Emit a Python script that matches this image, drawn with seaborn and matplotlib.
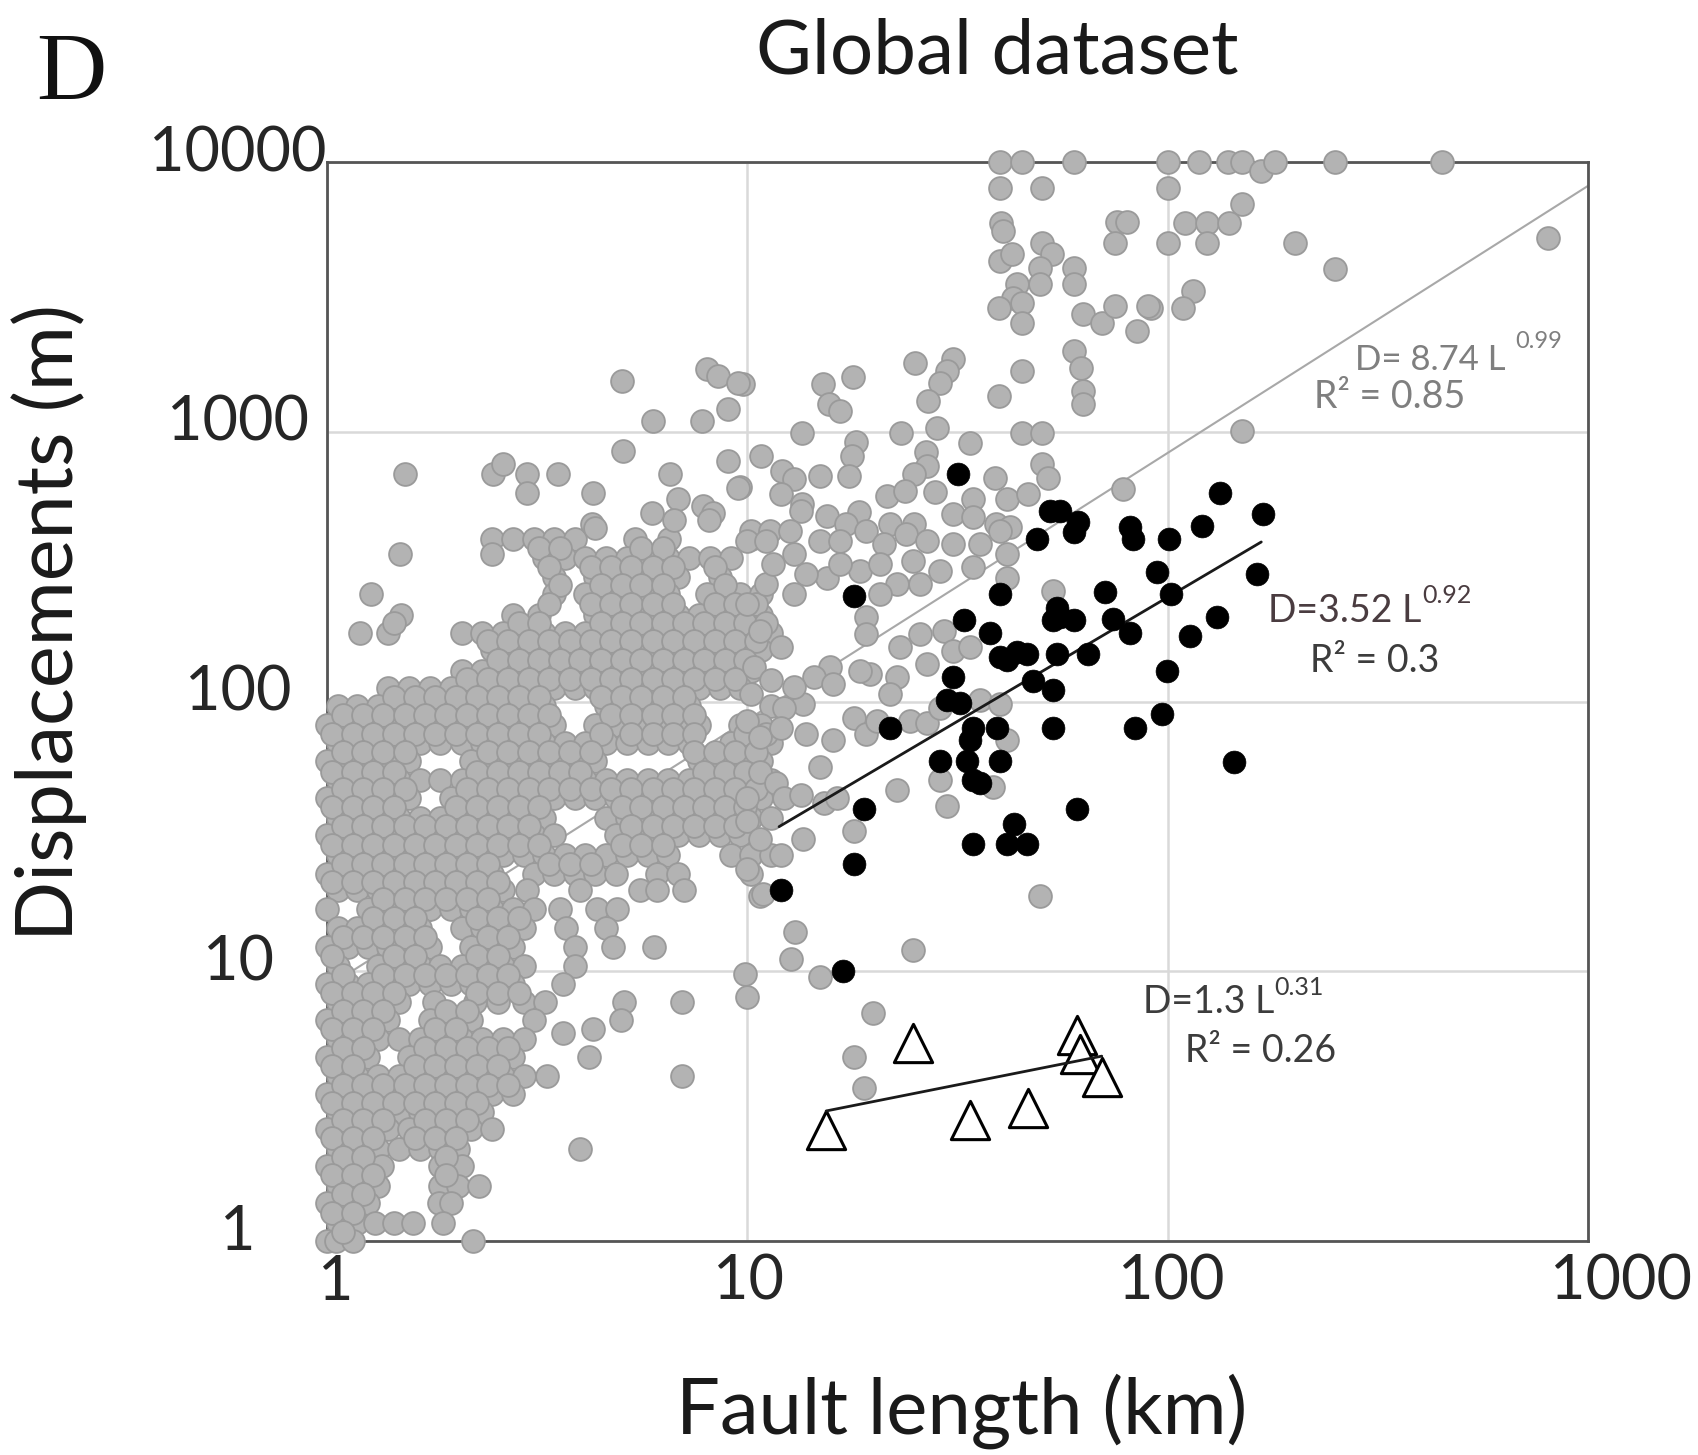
import numpy as np
import pandas as pd
import matplotlib
matplotlib.use("Agg")
import matplotlib.pyplot as plt
from matplotlib.ticker import NullLocator
from matplotlib.transforms import ScaledTranslation
import seaborn as sns

sns.set_style("white")
plt.rcParams['font.family'] = ['Lato', 'DejaVu Sans']

# ---------------- data ----------------
x_ticks = [1, 10, 100, 1000]
x_tick_labels = ['1', '10', '100', '1000']
y_ticks = [1, 10, 100, 1000, 10000]
y_tick_labels = ['1', '10', '100', '1000', '10000']

# dense grey cloud, row by row: displacement of the row and fault lengths on it
cloud_D = [400, 340, 290, 250, 210, 180, 155, 130, 112, 96, 82, 70, 60, 51, 44, 37, 32, 27,
           23, 20, 17, 14.5, 12.3, 10.5, 9.0, 7.7, 6.6, 5.6, 4.8, 4.1, 3.5, 3.0, 2.6, 2.2,
           1.9, 1.6, 1.38, 1.17, 1.0]
cloud_L = [
    [2.47, 2.77, 3.1, 3.47, 3.89, 5.4, 6.5, 10.2],
    [3.29, 3.68, 4.12, 4.62, 5.17, 5.79, 6.49, 7.27, 8.14, 9.12],
    [3.47, 4.35, 4.87, 5.46, 6.1, 6.85, 8.6],
    [1.27, 3.47, 4.12, 4.62, 5.17, 5.79, 6.49, 8.0, 9.6, 10.8],
    [1.5, 2.77, 3.2, 4.35, 4.87, 5.46, 6.1, 6.85, 7.67, 8.6, 9.6, 10.8],
    [1.2, 1.4, 2.09, 2.34, 2.62, 2.94, 3.29, 3.68, 4.12, 4.62, 5.17, 5.79, 6.49, 7.27, 8.14, 9.12, 10.2, 11.4],
    [2.47, 2.77, 3.1, 3.47, 3.89, 4.35, 4.87, 5.46, 6.1, 6.85, 7.67, 8.6, 9.6, 10.8],
    [2.09, 2.34, 2.62, 2.94, 3.29, 3.68, 4.12, 4.62, 5.17, 5.79, 6.49, 7.27, 8.14, 9.12, 10.2],
    [1.4, 1.57, 1.76, 1.97, 2.2, 2.47, 2.77, 3.1, 3.47, 3.89, 4.35, 4.87, 5.46, 6.1, 6.85, 7.67, 8.6, 9.6],
    [1.06, 1.18, 1.32, 1.48, 1.66, 1.86, 2.09, 2.34, 2.62, 2.94, 3.29, 4.62, 5.17, 5.79, 6.49, 7.27, 11.4],
    [1.0, 1.12, 1.25, 1.4, 1.57, 1.76, 1.97, 2.2, 2.47, 2.77, 3.1, 3.47, 4.35, 4.87, 5.46, 6.1, 6.85, 7.67, 9.6, 10.8],
    [1.06, 1.18, 1.32, 1.48, 1.66, 1.86, 2.09, 2.34, 2.62, 2.94, 3.29, 3.68, 4.12, 4.62, 5.17, 5.79, 6.49, 7.27, 9.12, 10.2, 11.4],
    [1.0, 1.12, 1.25, 1.4, 1.57, 2.2, 2.47, 2.77, 3.1, 3.47, 3.89, 4.35, 7.67, 8.6, 9.6, 10.8],
    [1.06, 1.18, 1.32, 1.48, 1.66, 1.86, 2.09, 2.34, 2.62, 2.94, 3.29, 3.68, 4.12, 4.62, 5.17, 5.79, 6.49, 7.27, 8.14, 9.12, 10.2, 11.4],
    [1.0, 1.12, 1.25, 1.4, 1.57, 1.97, 2.2, 2.47, 2.77, 3.1, 3.47, 3.89, 4.35, 4.87, 5.46, 6.1, 6.85, 7.67, 8.6, 9.6, 10.8],
    [1.06, 1.18, 1.32, 1.48, 1.66, 1.86, 2.09, 2.34, 2.62, 2.94, 3.29, 4.62, 5.17, 5.79, 6.49, 7.27, 8.14, 9.12, 10.2, 11.4],
    [1.0, 1.12, 1.25, 1.4, 1.57, 1.76, 1.97, 2.2, 2.47, 2.77, 3.1, 3.47, 4.87, 5.46, 6.1, 6.85, 7.67, 8.6, 9.6],
    [1.06, 1.18, 1.32, 1.48, 1.66, 1.86, 2.09, 2.34, 2.62, 2.94, 3.29, 3.68, 4.12, 4.62, 5.17, 5.79, 6.49, 9.12, 10.2, 11.4],
    [1.0, 1.12, 1.25, 1.4, 1.57, 1.76, 1.97, 2.2, 2.47, 3.1, 3.47, 3.89, 4.35, 4.87, 6.1, 6.85, 10.2],
    [1.06, 1.18, 1.32, 1.48, 1.66, 1.86, 2.09, 2.34, 2.62, 2.99, 4.0, 5.56, 6.1, 7.05],
    [1.0, 1.25, 1.4, 1.57, 1.76, 1.97, 2.2, 2.47, 2.77, 3.1, 3.58, 4.4, 4.9],
    [1.06, 1.18, 1.32, 1.48, 1.66, 2.09, 2.34, 2.62, 2.94, 3.7, 4.6],
    [1.0, 1.12, 1.25, 1.4, 1.57, 1.76, 2.2, 2.47, 2.77, 3.9, 4.8, 6.0],
    [1.06, 1.32, 1.48, 1.66, 1.86, 2.09, 2.34, 2.62, 2.94, 3.9],
    [1.0, 1.12, 1.25, 1.4, 1.57, 1.76, 1.97, 2.2, 2.47, 2.77, 3.65],
    [1.06, 1.18, 1.32, 1.48, 1.8, 2.25, 2.55, 2.94, 3.3, 5.1, 7.0],
    [1.0, 1.12, 1.25, 1.4, 1.76, 1.97, 2.2, 3.1, 5.0],
    [1.06, 1.18, 1.32, 1.48, 1.66, 1.86, 2.09, 2.34, 2.62, 2.94],
    [1.0, 1.12, 1.25, 1.57, 1.76, 1.97, 2.2, 2.47, 2.77, 4.2],
    [1.06, 1.18, 1.32, 1.48, 1.66, 1.86, 2.09, 2.34, 2.62, 2.94, 3.33, 7.0],
    [1.0, 1.12, 1.25, 1.4, 1.57, 1.76, 1.97, 2.2, 2.47, 2.77],
    [1.06, 1.18, 1.32, 1.48, 1.66, 1.86, 2.09, 2.34],
    [1.0, 1.12, 1.25, 1.4, 1.57, 1.76, 1.97, 2.2, 2.47],
    [1.06, 1.18, 1.32, 1.48, 1.66, 1.86, 2.05, 4.0],
    [1.0, 1.12, 1.25, 1.35, 1.86, 2.09],
    [1.06, 1.18, 1.32, 1.86, 2.05, 2.3],
    [1.0, 1.12, 1.25, 1.85, 1.97],
    [1.06, 1.18, 1.3, 1.44, 1.6, 1.89],
    [1.0, 1.05, 1.15, 2.23],
]

# second, in-between layer of the same cloud
cloud2_D = [370, 315, 270, 230, 195, 167, 142, 121, 104, 89, 76, 65, 55, 47.5, 40.5, 34.5,
            29.5, 25, 21.5, 18.5, 15.7, 13.4, 11.4, 9.7, 8.3, 7.1, 6.1, 5.2, 4.45, 3.8, 3.25,
            2.8, 2.4, 2.05, 1.75, 1.49, 1.27, 1.08]
cloud2_L = [
    [3.2, 3.58, 5.6, 6.3],
    [3.38, 4.24, 4.75, 5.3, 5.95, 6.67, 8.37],
    [3.58, 4.48, 5.02, 5.6, 6.3, 8.85],
    [3.38, 4.24, 4.75, 5.3, 5.95, 6.67, 8.37, 9.37, 10.5],
    [1.44, 2.86, 3.2, 4.48, 5.02, 5.6, 6.3, 7.05, 7.9, 8.85, 9.9, 11.1],
    [2.41, 2.7, 3.02, 3.38, 3.79, 4.24, 4.75, 5.3, 5.95, 6.67, 7.47, 8.37, 9.37, 10.5],
    [2.55, 2.86, 3.2, 3.58, 4.0, 4.48, 5.02, 5.6, 6.3, 7.05, 7.9, 8.85, 9.9],
    [2.15, 2.41, 2.7, 3.02, 3.38, 3.79, 4.24, 4.75, 5.3, 5.95, 6.67, 7.47, 8.37, 9.37],
    [1.44, 1.62, 1.81, 2.03, 2.28, 2.55, 2.86, 3.2, 4.48, 5.02, 5.6, 6.3, 7.05],
    [1.09, 1.22, 1.36, 1.53, 1.71, 1.92, 2.15, 2.41, 2.7, 3.02, 3.38, 4.75, 5.3, 5.95, 6.67, 7.47],
    [1.03, 1.15, 1.29, 1.44, 1.62, 1.81, 2.03, 2.28, 2.55, 2.86, 3.2, 4.48, 5.3, 5.95, 6.67, 7.47, 9.9, 11.1],
    [1.09, 1.22, 1.36, 1.53, 2.41, 2.7, 3.02, 3.38, 3.79, 4.24, 7.47, 8.37, 9.37, 10.5],
    [1.03, 1.15, 1.29, 1.44, 2.28, 2.55, 2.86, 3.2, 3.58, 4.0, 7.9, 8.85, 9.9],
    [1.09, 1.22, 1.36, 1.53, 2.15, 2.41, 2.7, 3.02, 3.38, 3.79, 4.24, 4.75, 5.3, 5.95, 6.67, 7.47, 8.37, 9.37, 10.5],
    [1.03, 1.15, 1.29, 1.44, 2.03, 2.28, 2.55, 2.86, 3.2, 5.02, 5.6, 6.3, 7.05, 7.9, 8.85, 9.9],
    [1.09, 1.22, 1.36, 1.53, 1.71, 1.92, 2.15, 2.41, 2.7, 3.02, 5.3, 5.95, 6.67, 7.47, 8.37, 9.37],
    [1.03, 1.15, 1.29, 1.44, 1.62, 1.81, 2.03, 2.28, 2.55, 2.86, 3.2, 5.02, 5.6, 6.3],
    [1.09, 1.22, 1.36, 1.53, 1.71, 1.92, 2.15, 2.41, 3.38, 3.79, 4.24],
    [1.03, 1.15, 1.29, 1.44, 1.62, 1.81, 2.03, 2.28, 2.55],
    [1.36, 1.53, 1.71, 1.92, 2.15, 2.41],
    [1.29, 1.44, 1.62, 2.28, 2.55, 2.86],
    [1.09, 1.22, 1.36, 1.53, 1.71, 2.41, 2.7],
    [1.03, 1.44, 1.62, 2.28, 2.55],
    [1.09, 1.36, 1.53, 1.71, 1.92, 2.15, 2.41, 2.7],
    [1.03, 1.15, 1.29, 1.44, 2.28, 2.55, 2.86],
    [1.09, 1.22, 1.36, 1.92, 2.15],
    [1.03, 1.15, 1.29, 1.81, 2.03],
    [1.09, 1.22, 1.71, 1.92, 2.15, 2.41, 2.7],
    [1.03, 1.15, 1.62, 1.81, 2.03, 2.28, 2.55],
    [1.09, 1.22, 1.36, 1.53, 1.71, 1.92, 2.15, 2.41, 2.7],
    [1.03, 1.15, 1.29, 1.44, 1.62, 1.81, 2.03, 2.28],
    [1.09, 1.22, 1.36, 1.71, 1.92, 2.15],
    [1.03, 1.15, 1.29, 1.62, 1.81, 2.03],
    [1.09, 1.22, 1.92],
    [1.03, 1.15, 1.29, 1.92],
    [1.09, 1.22],
    [1.03, 1.15],
    [1.09],
]

# scattered grey points (fault length km, displacement m)
gray_top = [(39.9, 10000), (45, 10000), (60, 10000), (100, 10000), (118.5, 10000), (139, 10000),
            (150, 10000), (167, 9260), (180, 10000), (250, 10000), (450, 10000),
            (39.9, 8010), (50.3, 8010), (100, 8010), (150, 6980),
            (40.2, 5940), (40.5, 5540), (75.8, 6000), (80, 6000), (75, 5010), (100, 5010),
            (110, 5940), (124, 5940), (140, 5940), (124, 5010), (201, 5010), (250, 4010),
            (804, 5230), (115, 3330), (108.6, 2880), (91.5, 2880),
            (50.3, 5010), (53, 4560), (39.9, 4300), (42.6, 4560), (60, 4050), (60, 3530),
            (49.6, 4050), (49.6, 3530), (43.8, 3530), (42.8, 3130), (39.6, 2880), (45, 3000),
            (45, 2530), (62.9, 2740), (69.8, 2530), (75, 2930), (84.5, 2370), (89.9, 2930),
            (60, 1995), (62.1, 1725), (62.8, 1418), (63, 1270), (45, 1680), (39.6, 1360),
            (25.1, 1800), (30.9, 1860), (29.9, 1680), (28.7, 1520), (26.9, 1300), (17.8, 1590),
            (15.1, 1500), (15.6, 1270), (16.6, 1195), (9.77, 1500), (13.5, 991), (23.2, 991),
            (28.3, 1035), (33.9, 910), (45, 991), (50.3, 991), (50.3, 761), (52, 676),
            (38.8, 676), (78.4, 615), (150, 1010)]

gray_mid = [(10.8, 815), (12.1, 717), (12.9, 668), (14.9, 687), (18.1, 914), (17.7, 815),
            (17.5, 687), (26.6, 840), (26.7, 748), (24.9, 697), (9.6, 622), (12.0, 588),
            (13.5, 540), (15.5, 489), (18.4, 502), (21.5, 580), (23.7, 605), (27.9, 597),
            (34.4, 564), (41.4, 564), (46.6, 588), (10.2, 430), (11.3, 430), (13.4, 510),
            (17.2, 455), (21.9, 455), (24.9, 455), (30.9, 495), (34.4, 482), (39.1, 455),
            (42.2, 443), (10.0, 394), (11.1, 394), (12.9, 352), (14.9, 394), (16.6, 394),
            (19.2, 430), (21.1, 384), (23.9, 418), (26.7, 394), (30.9, 384), (35.8, 384),
            (39.9, 430), (41.4, 352), (41.4, 288), (53.4, 257), (28.7, 305), (25.8, 272),
            (22.7, 272), (20.7, 250), (18.5, 305), (15.5, 288), (13.8, 297), (12.9, 250),
            (11.1, 272), (10.0, 230), (19.2, 205), (19.2, 178), (23.1, 159), (25.8, 178),
            (29.3, 183), (30.9, 154), (33.9, 159), (26.7, 138), (22.7, 123), (21.9, 107),
            (19.6, 126), (18.5, 130), (15.7, 134), (14.4, 123), (16.0, 116), (13.6, 98),
            (12.2, 95), (10.0, 85), (10.7, 74), (12.0, 80), (13.8, 76), (16.0, 72),
            (17.9, 87), (19.2, 76), (20.3, 85), (24.4, 85), (26.7, 83), (28.7, 95),
            (35.8, 101), (39.9, 98), (14.9, 57), (10.7, 55), (11.7, 50), (12.2, 44),
            (13.4, 45), (15.2, 42), (16.3, 44), (10.0, 44), (10.0, 36), (10.7, 31),
            (12.0, 27), (13.6, 31), (17.9, 33), (22.7, 47), (28.7, 51), (29.8, 41),
            (38.5, 48), (41.4, 72), (49.7, 19), (10.7, 19), (10.0, 24),
            (11.5, 324), (16.6, 324), (20.7, 324), (24.8, 333), (34.5, 314), (12.6, 430),
            (10.7, 183), (12.0, 159), (10.4, 134), (11.4, 120), (12.9, 113), (10.2, 107),
            (10.9, 19.4), (13.0, 14.0), (12.7, 11.1), (14.9, 9.5), (9.9, 9.8), (10.0, 8.0),
            (19.9, 7.0), (17.9, 4.8), (18.9, 3.7), (24.8, 12.0)]

gray_left = [(5.03, 1545), (8.0, 1710), (8.5, 1610), (9.5, 1520), (9.0, 1218), (5.97, 1097),
             (7.8, 1097), (5.06, 850), (9.0, 780), (1.53, 700), (2.48, 700), (2.62, 760),
             (2.99, 700), (2.99, 594), (3.54, 700), (4.29, 594), (6.55, 700), (6.85, 565),
             (6.7, 470), (7.85, 530), (8.3, 500), (5.94, 500), (9.5, 620), (4.27, 456),
             (4.35, 440), (8.1, 470), (2.47, 353), (1.49, 353), (4.3, 6.1), (3.65, 5.9)]

# black points
black_pts = [(31.7, 697), (17.9, 247), (39.9, 250), (32.7, 200), (37.8, 180), (39.9, 146),
             (43.7, 152), (46.2, 150), (41.4, 142), (30.9, 123), (29.8, 101), (32.1, 99),
             (21.9, 80), (34.5, 80), (39.2, 80), (33.9, 72), (28.7, 60), (33.3, 60),
             (39.9, 60), (34.5, 51), (35.8, 50), (18.9, 40), (17.9, 25), (12.0, 20),
             (34.5, 29.6), (43.0, 35.2), (41.4, 29.6), (46.2, 29.6), (53.4, 80), (60.8, 40),
             (47.9, 119), (53.4, 110), (54.5, 150), (64.7, 150), (55.5, 205), (53.4, 200),
             (54.5, 223), (59.7, 200), (71.0, 254), (74.3, 202), (81.3, 180), (94.2, 301),
             (102, 250), (99.5, 130), (96.8, 90), (83.6, 80), (101, 400), (82.8, 400),
             (81.3, 442), (59.7, 424), (48.8, 400), (113, 175), (52.5, 510), (55.5, 510),
             (61.2, 461), (133, 594), (169, 497), (121, 449), (163, 298), (131, 205),
             (144, 59.5), (16.9, 10)]

# open triangles
tri_L = [15.4, 24.8, 33.9, 46.6, 60.8, 61.8, 69.7]
tri_D = [2.58, 5.4, 2.8, 3.1, 5.8, 4.95, 4.06]

# power-law fits shown on the chart: (coefficient, exponent, Lmin, Lmax)
fit_gray = (8.74, 0.99, 1.0, 1000.0)
fit_black = (3.52, 0.92, 11.9, 167.0)
fit_tri = (1.3, 0.31, 15.4, 69.7)

# ---------------- build tables ----------------
rows_L, rows_D = [], []
for Ds, Ls in ((cloud_D, cloud_L), (cloud2_D, cloud2_L)):
    for d, ls in zip(Ds, Ls):
        for l in ls:
            rows_L.append(l)
            rows_D.append(d)
gray_all = list(zip(rows_L, rows_D)) + gray_top + gray_mid + gray_left
gray_df = pd.DataFrame(gray_all, columns=['L', 'D'])
black_df = pd.DataFrame(black_pts, columns=['L', 'D'])
tri_df = pd.DataFrame({'L': tri_L, 'D': tri_D})


def fit_df(f):
    a, b, l0, l1 = f
    L = np.logspace(np.log10(l0), np.log10(l1), 60)
    return pd.DataFrame({'L': L, 'D': a * L ** b})


# ---------------- figure ----------------
W, H = 1699, 1455
fig = plt.figure(figsize=(W / 100, H / 100), dpi=100)
ax = fig.add_axes([327 / W, 1 - 1241 / H, (1588 - 327) / W, (1241 - 162) / H])
ax.set_xscale('log')
ax.set_yscale('log')

sns.lineplot(data=fit_df(fit_gray), x='L', y='D', ax=ax, color='#a8a8a8', lw=1.5,
             sort=False, estimator=None, zorder=1.5)
sns.scatterplot(data=gray_df, x='L', y='D', ax=ax, s=270, color='#b3b3b3',
                edgecolor='#9a9a9a', linewidth=1.3, zorder=2, clip_on=False)
sns.lineplot(data=fit_df(fit_black), x='L', y='D', ax=ax, color='#1a1a1a', lw=2.0,
             sort=False, estimator=None, zorder=3)
sns.scatterplot(data=black_df, x='L', y='D', ax=ax, s=270, color='black',
                edgecolor='black', linewidth=0.5, zorder=4, clip_on=False)
sns.scatterplot(data=tri_df, x='L', y='D', ax=ax, s=760, marker='^', color='white',
                edgecolor='black', linewidth=2.2, zorder=5, clip_on=False)
sns.lineplot(data=fit_df(fit_tri), x='L', y='D', ax=ax, color='#1a1a1a', lw=2.0,
             sort=False, estimator=None, zorder=6)

ax.set_xlim(1, 1000)
ax.set_ylim(1, 10000)
ax.set_xticks(x_ticks)
ax.set_xticklabels(x_tick_labels)
ax.set_yticks(y_ticks)
ax.set_yticklabels(y_tick_labels)
ax.xaxis.set_minor_locator(NullLocator())
ax.yaxis.set_minor_locator(NullLocator())
ax.tick_params(axis='both', length=0, labelsize=44, labelcolor='#262626')
ax.tick_params(axis='x', pad=9)
ax.tick_params(axis='y', pad=64)
ax.set_xlabel('')
ax.set_ylabel('')
ax.grid(True, which='major', color='#d9d9d9', lw=1.8)
ax.set_axisbelow(True)
for sp in ax.spines.values():
    sp.set_color('#555555')
    sp.set_linewidth(2.0)
    sp.set_zorder(1.8)

# label placement as in the picture: y labels centred in a column, raised a little
for lab in ax.get_yticklabels():
    lab.set_horizontalalignment('center')
    lab.set_transform(lab.get_transform() + ScaledTranslation(0, 10 / 72, fig.dpi_scale_trans))
x_shift_pt = [6.5, 0.7, 2.9, 23.8]
for lab, dx in zip(ax.get_xticklabels(), x_shift_pt):
    lab.set_transform(lab.get_transform() + ScaledTranslation(dx / 72, 0, fig.dpi_scale_trans))


def ft(x, y, s, **kw):
    fig.text(x / W, 1 - y / H, s, **kw)


ft(36, 100, 'D', fontsize=70, family=['Liberation Serif'], color='#111111',
   ha='left', va='baseline')
ft(997, 74, 'Global dataset', fontsize=55, color='#1a1a1a', ha='center', va='baseline')
ft(49, 623, 'Displacements (m)', fontsize=57, color='#1a1a1a', rotation=90,
   ha='center', va='center')
ft(962, 1411, 'Fault length (km)', fontsize=56, color='#1a1a1a', ha='center', va='center')

gcol = '#7f7f7f'
ft(1355, 370, 'D= 8.74 L', fontsize=25, color=gcol, ha='left', va='baseline')
ft(1515, 348, '0.99', fontsize=17, color=gcol, ha='left', va='baseline')
ft(1314, 408, 'R² = 0.85', fontsize=27, color=gcol, ha='left', va='baseline')

bcol = '#4a3c40'
ft(1268, 622, 'D=3.52 L', fontsize=27, color=bcol, ha='left', va='baseline')
ft(1422, 603, '0.92', fontsize=18, color=bcol, ha='left', va='baseline')
ft(1310, 672, 'R² = 0.3', fontsize=27, color='#3c3c3c', ha='left', va='baseline')

tcol = '#3c3c3c'
ft(1143, 1013, 'D=1.3 L', fontsize=27, color=tcol, ha='left', va='baseline')
ft(1274, 995, '0.31', fontsize=18, color=tcol, ha='left', va='baseline')
ft(1185, 1062, 'R² = 0.26', fontsize=27, color=tcol, ha='left', va='baseline')

fig.savefig('out.png', dpi=100)
